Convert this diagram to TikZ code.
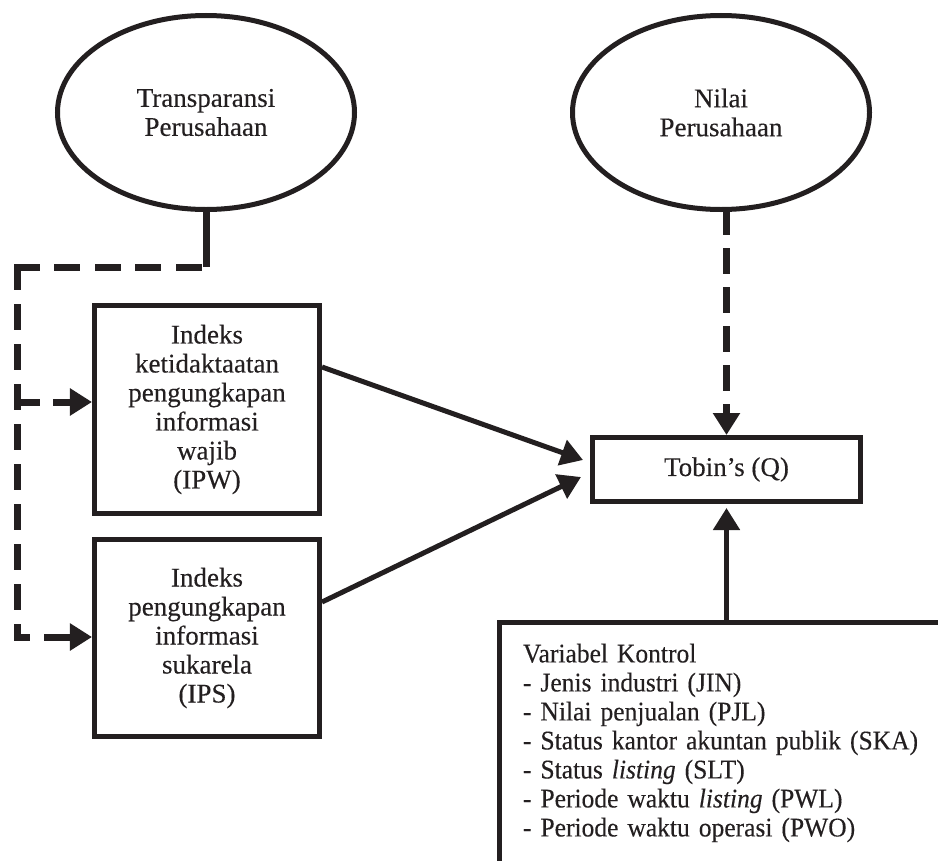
\documentclass[tikz,border=0pt]{standalone}
\usepackage{fontspec}
\setmainfont{Liberation Serif}[FakeBold=0.25]
\newfontfamily\ctlfont{Liberation Serif}[FakeBold=0.25, FakeStretch=0.945]
\usetikzlibrary{arrows.meta,shapes.geometric}
\definecolor{ink}{RGB}{35,31,32}
\begin{document}
\begin{tikzpicture}[x=1bp,y=-1bp,
  every node/.style={font=\fontsize{27bp}{29bp}\selectfont, text=ink},
  ellnode/.style={ellipse, draw=ink, line width=5bp, minimum width=297bp, minimum height=194bp, inner sep=0pt, align=center},
  boxnode/.style={rectangle, draw=ink, line width=5bp, inner sep=0pt, align=center},
  tip/.style={-{Triangle[length=22bp,width=26bp]}},
  solidcon/.style={draw=ink, line width=5bp, tip},
  dashcon/.style={draw=ink, line width=7bp, line cap=rect, dash pattern=on 19bp off 20bp},
]
\useasboundingbox (0,0) rectangle (938,861);
% nodes
\node[ellnode] (e1) at (206,112.5) {Transparansi\\Perusahaan};
\node[ellnode] (e2) at (721,112.5) {Nilai\\Perusahaan};
\node[boxnode, minimum width=225bp, minimum height=208bp] (b1) at (207,409.5)
  {Indeks\\ketidaktaatan\\pengungkapan\\informasi\\wajib\\(IPW)};
\node[boxnode, minimum width=225bp, minimum height=197bp] (b2) at (207,638)
  {Indeks\\pengungkapan\\informasi\\sukarela\\(IPS)};
\node[boxnode, minimum width=268bp, minimum height=64bp] (tq) at (726.5,469.5) {Tobin’s (Q)};
\node[draw=ink, line width=5bp, anchor=north west, inner xsep=23.5bp, inner ysep=21.2bp,
      text width=450bp, align=left, font=\ctlfont\fontsize{27bp}{29bp}\selectfont] (ctl) at (497,620)
  {Variabel Kontrol\\
   - Jenis industri (JIN)\\
   - Nilai penjualan (PJL)\\
   - Status kantor akuntan publik (SKA)\\
   - Status \textit{listing} (SLT)\\
   - Periode waktu \textit{listing} (PWL)\\
   - Periode waktu operasi (PWO)};
% helper coordinates
\coordinate (c1) at (206,267);
\coordinate (c2) at (17,267);
\coordinate (c4) at (17,637);
\coordinate (c5) at (17,402);
% left dashed network
\draw[ink, line width=7bp] (e1.south) -- (c1);
\draw[dashcon, dash pattern=on 19bp off 21.5bp] (c2) -- (c1);
\draw[dashcon, dash pattern=on 19bp off 21bp, tip] (c2) -- (c4) -- (b2.west |- c4);
\draw[dashcon, tip] (c5) -- (b1.west |- c5);
% right dashed
\draw[dashcon, tip] (tq.north |- e2.south) -- (tq.north);
% solid arrows
\draw[solidcon] ([yshift=-64bp]b1.north east) -- ([xshift=-7bp,yshift=9.5bp]tq.west);
\draw[solidcon] ([yshift=-65bp]b2.north east) -- ([xshift=-9bp,yshift=-7.5bp]tq.west);
\draw[solidcon] (ctl.north -| tq.south) -- ([yshift=-4bp]tq.south);
\end{tikzpicture}
\end{document}
